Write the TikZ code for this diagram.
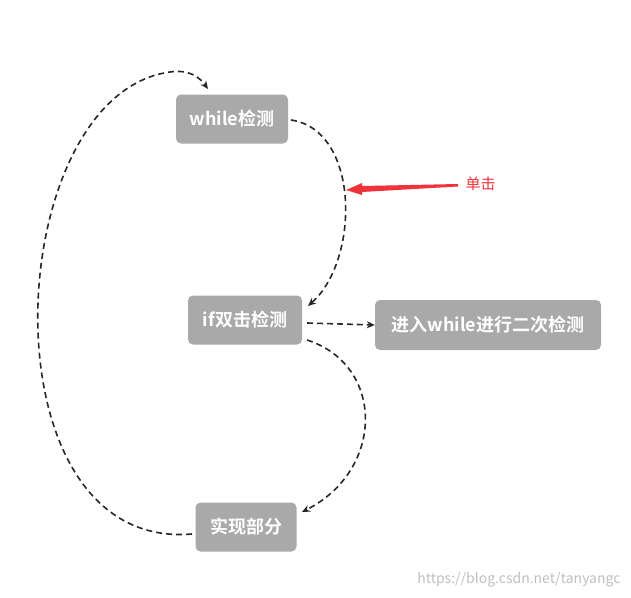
\documentclass[tikz,border=0pt]{standalone}
\usepackage{fontspec}
\setmainfont{Noto Sans CJK SC}
\newfontfamily\cjkb{Noto Sans CJK SC Bold}
\usetikzlibrary{arrows.meta}
\tikzset{
  box/.style={fill=boxgray, rounded corners=5pt, text=white, font=\cjkb\fontsize{18}{20}\selectfont, inner sep=0pt},
  conn/.style={draw=black!85, line width=1.6pt, dash pattern=on 6pt off 4pt, -{Stealth[length=8pt,width=7pt]}}
}
\definecolor{boxgray}{HTML}{A9A9A9}
\definecolor{redarr}{HTML}{F0333A}
\begin{document}
\begin{tikzpicture}[x=1pt,y=-1pt]
\useasboundingbox (0,0) rectangle (631,597);
\node[box, minimum width=112pt, minimum height=49pt] (w) at (232,119) {while检测};
\node[box, minimum width=114pt, minimum height=49pt] (i) at (245,320) {if双击检测};
\node[box, minimum width=226pt, minimum height=50pt] (e) at (488,325) {进入while进行二次检测};
\node[box, minimum width=101pt, minimum height=49pt] (r) at (246,527) {实现部分};
\coordinate (wr) at (291,120);
\coordinate (ir) at (307,323);
\coordinate (ib) at (307,340);
\coordinate (rl) at (192,534);
\coordinate (wt) at (208,89);
\draw[conn] (wr) .. controls (360,130) and (360,260) .. (308,306);
\draw[conn] (ir) -- (e.west);
\draw[conn] (ib) .. controls (385,365) and (385,470) .. (302,512);
\draw[conn] (rl) .. controls (-20,552) and (0,95) .. (170,72) .. controls (190,69) and (200,78) .. (wt);
\fill[redarr] (458,184) -- (362,186) -- (362,183) -- (346,190) -- (362,195) -- (362,192) -- (458,186.5) -- cycle;
\node[text=redarr, font=\fontsize{15}{17}\selectfont, anchor=west] (lbl) at (462,184) {单击};
\node[text=black!25, font=\fontsize{14}{16}\selectfont, anchor=east] (wm) at (624,580) {https://blog.csdn.net/tanyangc};
\end{tikzpicture}
\end{document}
